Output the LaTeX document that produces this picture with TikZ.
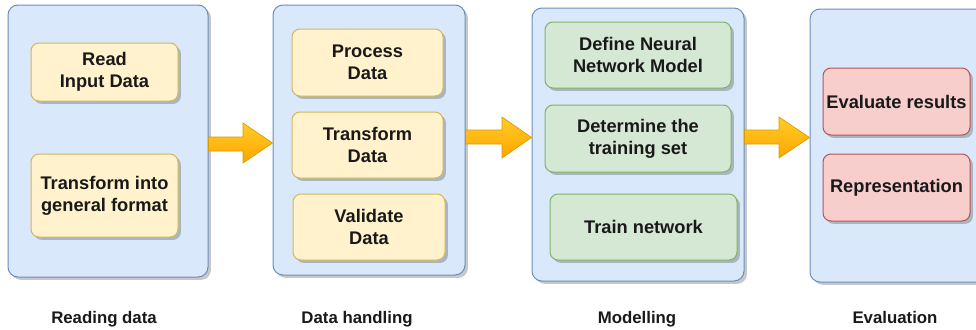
\documentclass[tikz,border=0pt]{standalone}
\usepackage{fontspec}
\setmainfont{Liberation Sans}
\usetikzlibrary{shadows,calc}
\definecolor{bluef}{HTML}{DAE8FC}
\definecolor{blued}{HTML}{6C8EBF}
\definecolor{ylwf}{HTML}{FFF2CC}
\definecolor{ylwd}{HTML}{D6B656}
\definecolor{grnf}{HTML}{D5E8D4}
\definecolor{grnd}{HTML}{82B366}
\definecolor{redf}{HTML}{F8CECC}
\definecolor{redd}{HTML}{B85450}
\definecolor{arrtop}{HTML}{FFCD28}
\definecolor{arrbot}{HTML}{FFA500}
\definecolor{arrd}{HTML}{D79B00}
\def\pu{0.75pt}
\tikzset{
  shd/.style={drop shadow={shadow xshift=2.2pt, shadow yshift=-2.2pt, fill=black, opacity=0.22}},
  panel/.style={shd, draw=blued, fill=bluef, line width=0.75pt, rounded corners=7.5pt, inner sep=0pt},
  box/.style={shd, line width=0.75pt, rounded corners=6pt, inner sep=0pt, align=center,
    font=\fontsize{13.7pt}{16.5pt}\selectfont\bfseries, text=black!90},
  ybox/.style={box, draw=ylwd, fill=ylwf},
  gbox/.style={box, draw=grnd, fill=grnf},
  rbox/.style={box, draw=redd, fill=redf},
  caption/.style={anchor=base, font=\fontsize{12.6pt}{15pt}\selectfont\bfseries, text=black!90},
  bigarrow/.style={top color=arrtop, bottom color=arrbot, draw=arrd, line width=0.5pt, line join=miter},
  sz/.style 2 args={minimum width=#1*\pu, minimum height=#2*\pu}
}
\begin{document}
\begin{tikzpicture}[x=0.75pt, y=-0.75pt]
\useasboundingbox (0,0) rectangle (976,329);
% panels
\node[panel, sz={200}{272}] (p1) at (108,141) {};
\node[panel, sz={192}{270}] (p2) at (369,140) {};
\node[panel, sz={212}{273}] (p3) at (638,144.5) {};
\node[panel, sz={176}{273}] (p4) at (898,145.5) {};
% inner boxes
\node[ybox, sz={147}{58}] (a1) at (104.5,72) {Read\\Input Data};
\node[ybox, sz={147}{83}] (a2) at (104.5,195.5) {Transform into\\general format};
\node[ybox, sz={151}{67}] (b1) at (367.5,62.5) {Process\\Data};
\node[ybox, sz={151}{66}] (b2) at (367.5,145) {Transform\\Data};
\node[ybox, sz={152}{66}] (b3) at (369,227) {Validate\\Data};
\node[gbox, sz={186}{66}] (c1) at (638,55) {Define Neural\\Network Model};
\node[gbox, sz={186}{67}] (c2) at (638,138.5) {Determine the\\training set};
\node[gbox, sz={187}{66}] (c3) at (643.5,227) {Train network};
\node[rbox, sz={147}{67}] (d1) at (896.5,101.5) {Evaluate results};
\node[rbox, sz={147}{67}] (d2) at (896.5,187.5) {Representation};
% captions
\node[caption] (l1) at (104,323) {Reading data};
\node[caption] (l2) at (357,323) {Data handling};
\node[caption] (l3) at (637,323) {Modelling};
\node[caption] (l4) at (895,323) {Evaluation};
% block arrows
\path[bigarrow] (p1.east |- 0,137) -- (243,137) -- (243,123) -- (p2.west |- 0,143)
  -- (243,163) -- (243,151) -- (p1.east |- 0,151) -- cycle;
\path[bigarrow] (p2.east |- 0,130) -- (502,130) -- (502,117) -- (p3.west |- 0,137.5)
  -- (502,158) -- (502,144) -- (p2.east |- 0,144) -- cycle;
\path[bigarrow] (p3.east |- 0,130) -- (779,130) -- (779,117) -- (p4.west |- 0,137.5)
  -- (779,158) -- (779,144) -- (p3.east |- 0,144) -- cycle;
\end{tikzpicture}
\end{document}
